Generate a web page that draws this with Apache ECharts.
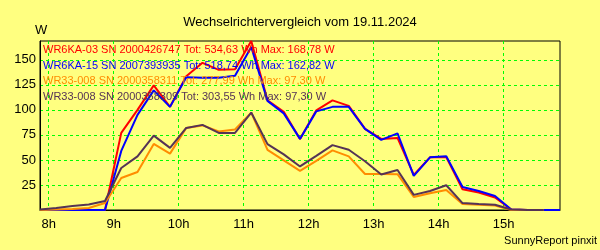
<!DOCTYPE html>
<html>
<head>
<meta charset="utf-8">
<script src="https://cdn.jsdelivr.net/npm/echarts@6/dist/echarts.min.js"></script>
<style>
  html, body { margin: 0; padding: 0; background: #ffff80; }
  #chart { width: 600px; height: 250px; }
</style>
</head>
<body>
<div id="chart"></div>
<script>
// Messzeitpunkte (alle 15 Minuten)
var zeiten = ['7:52','8:07','8:22','8:37','8:52','9:07','9:22','9:37','9:52','10:07','10:22','10:37','10:52',
  '11:07','11:22','11:37','11:52','12:07','12:22','12:37','12:52','13:07','13:22','13:37','13:52',
  '14:07','14:22','14:37','14:52','15:07','15:22','15:37','15:52'];

var stunden = [8, 9, 10, 11, 12, 13, 14, 15];
var yTicks = [25, 50, 75, 100, 125, 150];
var yMax = 168.78;

var namen = [
  'WR6KA-03 SN 2000426747 Tot: 534,63 Wh Max: 168,78 W',
  'WR6KA-15 SN 2007393935 Tot: 518,74 Wh Max: 162,82 W',
  'WR33-008 SN 2000358311 Tot: 277,99 Wh Max: 97,30 W',
  'WR33-008 SN 2000358309 Tot: 303,55 Wh Max: 97,30 W'
];
var farben = ['#ff0000', '#0000ff', '#ff8c00', '#553355'];

// Leistung in W
var wr6ka03 = [0, 0, 0, 0, 0, 77, 100, 124.5, 103, 133.5, 147, 140, 140.5,
  168.78, 109.5, 98, 71, 99.5, 109.5, 104, 81, 71, 72, 35,
  52.6, 53, 20.7, 17.5, 12.5, 0.5, 0, 0];
var wr6ka15 = [0, 0, 0, 0, 0, 59, 95, 119.5, 103, 132.5, 132, 132, 134,
  162.82, 109, 96.5, 71, 98.5, 103, 103, 81, 70, 76.5, 34,
  52.6, 53.6, 23, 19, 14, 0.5, 0, 0, 0];
var wr33_311 = [0, 0.5, 1, 2, 7, 32, 38, 66, 56.3, 82, 84.5, 78.5, 80.5,
  97.3, 60, 49.5, 39, 49, 59.5, 53.6, 36, 36, 35.8, 13,
  16.8, 20, 6, 5.2, 4.5, 0, 0, 0];
var wr33_309 = [0.5, 2, 4, 5.5, 9, 42, 53.6, 74.3, 62, 82, 85, 77, 77,
  97.3, 65.8, 55.5, 43.5, 54, 64.8, 60.2, 48.7, 35.5, 40, 15.1,
  19, 24.7, 6.9, 5.9, 5.2, 0.5, 0, 0];

function inStunden(t) {
  var p = t.split(':');
  return parseInt(p[0]) + parseInt(p[1]) / 60;
}

function paare(werte) {
  var out = [];
  for (let i = 0; i < werte.length; i++) {
    out.push([inStunden(zeiten[i]), werte[i]]);
  }
  return out;
}

var reihen = [wr6ka03, wr6ka15, wr33_311, wr33_309];
var font = 'Liberation Sans, Arial, sans-serif';

var myChart = echarts.init(document.getElementById('chart'));
var option = {
  backgroundColor: '#ffff80',
  animation: false,
  title: [{
    text: 'Wechselrichtervergleich vom 19.11.2024',
    left: 'center',
    top: 11,
    textStyle: { fontFamily: font, fontSize: 13, fontWeight: 'normal', color: '#000' }
  }, {
    text: 'W',
    left: 30,
    top: 19,
    textStyle: { fontFamily: font, fontSize: 13, fontWeight: 'normal', color: '#000' }
  }, {
    text: 'SunnyReport pinxit',
    right: 3,
    top: 235,
    padding: 0,
    textStyle: { fontFamily: font, fontSize: 11, fontWeight: 'normal', color: '#000' }
  }],
  legend: {
    orient: 'vertical',
    left: 38,
    top: 43,
    padding: 0,
    icon: 'none',
    itemWidth: 0,
    itemHeight: 14,
    itemGap: 3,
    selectedMode: false,
    textStyle: { fontFamily: font, fontSize: 11 },
    data: namen.map(function (n, i) {
      return { name: n, textStyle: { color: farben[i] } };
    })
  },
  grid: {
    left: 40,
    right: 40,
    top: 41,
    bottom: 40,
    show: true,
    borderColor: '#000',
    borderWidth: 1
  },
  xAxis: {
    type: 'value',
    min: inStunden(zeiten[0]),
    max: inStunden(zeiten[zeiten.length - 1]),
    axisLine: { lineStyle: { color: '#000', width: 1 } },
    axisTick: { show: false, customValues: stunden },
    axisLabel: {
      customValues: stunden,
      margin: 8,
      fontFamily: font,
      fontSize: 13,
      color: '#000',
      formatter: function (v) { return v + 'h'; }
    },
    splitLine: { show: true, lineStyle: { color: '#00ff00', type: [3, 3], width: 1 } }
  },
  yAxis: {
    type: 'value',
    min: 0,
    max: yMax,
    axisLine: { show: true, lineStyle: { color: '#000', width: 1 } },
    axisTick: { show: false, customValues: yTicks },
    axisLabel: {
      customValues: yTicks,
      margin: 4,
      fontFamily: font,
      fontSize: 13,
      color: '#000'
    },
    splitLine: { show: true, lineStyle: { color: '#00ff00', type: [3, 3], width: 1 } }
  },
  series: reihen.map(function (werte, i) {
    return {
      name: namen[i],
      type: 'line',
      showSymbol: false,
      symbol: 'none',
      lineStyle: { width: 2, color: farben[i] },
      itemStyle: { color: farben[i] },
      data: paare(werte)
    };
  })
};
myChart.setOption(option);
</script>
</body>
</html>
